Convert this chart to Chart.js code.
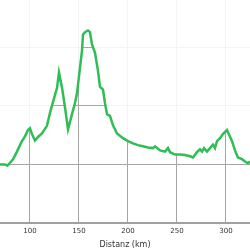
<!DOCTYPE html>
<html>
<head>
<meta charset="utf-8">
<script src="https://cdn.jsdelivr.net/npm/chart.js"></script>
<style>
html,body{margin:0;padding:0;background:#fff;}
#wrap{width:250px;height:250px;}
</style>
</head>
<body>
<div id="wrap"><canvas id="profileChart"></canvas></div>
<script>
/* DATA */
let distKm=[69.4,74.5,77.0,79.6,82.7,86.7,89.8,91.8,94.9,98.0,100,102,105.1,108.2,112.2,117.3,120.4,123.5,127.6,129.6,132.7,135.7,138.8,142.9,145.9,148,151,153.1,154.1,156.1,159.2,161.2,163.3,166.3,169.4,171.4,174.5,176.5,178.6,181.6,184.7,188.8,194.9,200,205.1,210.2,215.3,220.4,225.5,227.6,232.7,237.8,240.8,242.9,248,253.1,258.2,263.3,266.3,270.4,273.5,275.5,277.6,280.6,283.7,286.7,288.8,290.8,293.9,296.9,301,302,306.1,309.2,312.2,316.3,319.4,322.4,324.5];
let elev=[100,100,98,103,109,122,133,140,148,159,162,152,141,147,153,166,188,207,231,257,231,198,160,186,205,222,265,295,322,326,329,326,305,291,260,233,228,205,186,183,167,153,145,140,136,133,131,129,128,131,124,122,128,121,117,117,116,114,112,121,126,122,128,122,128,134,128,140,145,152,159,155,140,124,112,109,105,102,105];
let xTicks=[100,150,200,250,300];
let yTicks=[0,100,200,300];

let points=distKm.map((d,i)=>({x:d,y:elev[i]}));

/* PROFILE CHART */
new Chart(
document.getElementById("profileChart"),
{
    type:"line",

    data:{
        datasets:[{
            data:points,
            borderColor:"#2fbe55",
            borderWidth:2.5,
            backgroundColor:"rgba(255,255,255,0.88)",
            fill:"end",
            pointRadius:0,
            tension:0
        }]
    },

    options:{
        responsive:true,
        maintainAspectRatio:false,
        animation:false,
        layout:{padding:0},
        plugins:{
            legend:{display:false},
            tooltip:{enabled:false}
        },
        scales:{
            x:{
                type:"linear",
                min:69.4,
                max:324.5,
                afterBuildTicks:scale=>{
                    scale.ticks=xTicks.map(v=>({value:v}));
                },
                grid:{color:"#a6a6a6",drawTicks:false},
                border:{color:"#a0a0a0",width:2},
                ticks:{
                    color:"#333",
                    padding:4,
                    maxRotation:0,
                    font:{family:"DejaVu Sans",size:7}
                },
                title:{
                    display:true,
                    text:"Distanz (km)",
                    color:"#333",
                    padding:{top:1,bottom:0},
                    font:{family:"DejaVu Sans",size:8}
                }
            },
            y:{
                display:true,
                min:0,
                max:381,
                afterBuildTicks:scale=>{
                    scale.ticks=yTicks.map(v=>({value:v}));
                },
                grid:{color:"#a6a6a6",drawTicks:false},
                border:{display:false},
                ticks:{display:false}
            }
        }
    }
}
);
</script>
</body>
</html>
